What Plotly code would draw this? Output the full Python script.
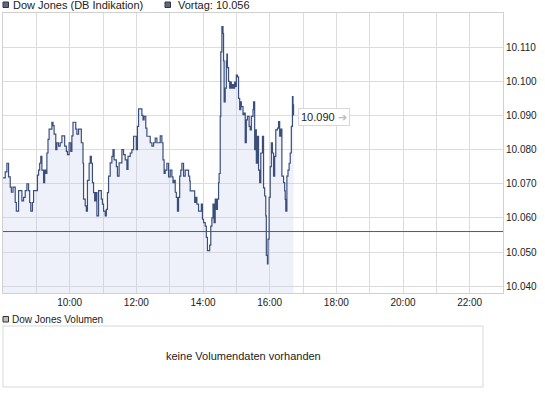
import plotly.graph_objects as go

# ---------------- data ----------------
times = [
    "08:00","08:04","08:07","08:10","08:13","08:15","08:18","08:22","08:24","08:26",
    "08:28","08:31","08:34","08:37","08:40","08:43","08:46","08:48","08:50","08:53",
    "08:55","09:00","09:02","09:04","09:06","09:08","09:10","09:13","09:15","09:17",
    "09:19","09:21","09:23","09:26","09:28","09:30","09:32","09:35","09:37","09:40",
    "09:43","09:46","09:49","09:51","09:54","09:56","09:59","10:02","10:04","10:06",
    "10:08","10:11","10:13","10:16","10:19","10:21","10:24","10:25","10:28","10:30",
    "10:32","10:35","10:37","10:39","10:41","10:43","10:45","10:47","10:49","10:52",
    "10:55","10:57","10:59","11:01","11:04","11:06","11:08","11:10","11:13","11:16",
    "11:18","11:20","11:24","11:26","11:29","11:32","11:34","11:37","11:40","11:43",
    "11:45","11:49","11:52","11:55","11:58","12:00","12:02","12:04","12:07","12:10",
    "12:12","12:14","12:17","12:19","12:22","12:25",
    "12:28","12:31","12:34","12:37","12:40","12:43","12:46","12:48","12:50","12:52",
    "12:55","12:58","13:01","13:04","13:06","13:08","13:10","13:12","13:14","13:16",
    "13:18","13:20","13:22","13:25","13:28","13:31","13:34","13:36","13:37","13:40",
    "13:43","13:45","13:47","13:49","13:52","13:55","13:57","13:59","14:01","14:04",
    "14:06","14:08","14:10","14:12","14:14","14:16","14:18","14:20","14:22","14:24",
    "14:26","14:28","14:29","14:31","14:32","14:34","14:36","14:37","14:38","14:40",
    "14:42","14:43","14:44","14:46","14:48","14:49","14:51","14:53","14:55","14:57",
    "14:59","15:00","15:02","15:04","15:06","15:08","15:09","15:12","15:14","15:16",
    "15:18","15:20","15:23","15:25","15:27","15:30","15:31","15:33","15:35","15:36",
    "15:38","15:40","15:42","15:44","15:47","15:49","15:51","15:53","15:54","15:56",
    "15:57","15:59","16:01","16:03","16:05","16:07","16:09","16:11","16:14","16:16",
    "16:18","16:20","16:22","16:25","16:27","16:28","16:29","16:31","16:33","16:35",
    "16:37","16:39","16:41","16:42","16:43",
]
prices = [
    10071.7,10073.5,10076,10072,10069,10067.5,10069,10064.5,10062,10062,
    10068,10068,10065,10066,10068,10070,10068,10064.5,10062,10064.5,
    10068,10068,10072.5,10074,10076,10078,10074,10070.3,10074,10073,
    10079,10083,10086,10086,10088,10087,10084.5,10080,10082,10081,
    10082,10084,10084,10081,10079.5,10078.5,10082,10079.5,10084,10088,
    10088,10086,10084.5,10086,10086,10082,10076,10065.5,10063.5,10062,
    10071,10076,10078,10076,10070.3,10067.4,10065,10067.4,10060.6,10068,
    10068,10065.5,10064,10062,10060.6,10062.5,10067.4,10072.2,10076.1,10078,
    10080,10077,10075,10072.2,10076.1,10076.1,10080,10078.5,10077,10074.2,
    10078,10079,10080,10083.9,10083.9,10080,10086.8,10091.9,10091.9,10090,
    10088.7,10089.7,10086.3,10083.9,10083.9,10082,
    10081,10082,10083.4,10082,10082,10084,10082,10077,10073,10074,
    10076,10072,10074,10072,10070.3,10071,10067.5,10066,10062,10066,
    10072.2,10074,10076,10072.2,10074,10074,10072.2,10070.8,10067.9,10067.9,
    10067.9,10064.5,10066,10064,10062,10062,10064,10059.6,10058.6,10057.6,
    10054.3,10050.4,10050.4,10052,10057.6,10060,10064,10058.6,10065.5,10062.5,
    10065.5,10070.3,10073,10089.7,10108.6,10116,10114,10106,10094,10098,
    10106,10108,10104,10100,10098,10099.8,10098,10099,10098,10099.8,
    10098.5,10101.8,10101.3,10095,10091.7,10094,10092.6,10090.2,10090.7,10082,
    10088.7,10089.7,10086.8,10085.8,10089.7,10091.7,10094,10080,10085.8,10076,
    10083.9,10074,10070.3,10079,10083.9,10068.8,10066.4,10060.6,10049,10046.5,
    10053.8,10066,10075,10082,10079,10072.2,10078,10085.8,10086.3,10088.2,
    10083.9,10086,10072.2,10070.3,10067.9,10065.4,10062,10072.2,10074,10076,
    10079,10086.8,10095.5,10093.1,10090,
]
vortag = 10056
last_price = 10090
y_ticks = [10040, 10050, 10060, 10070, 10080, 10090, 10100, 10110]
x_tick_hours = [10, 12, 14, 16, 18, 20, 22]
x_tick_labels = ["10:00", "12:00", "14:00", "16:00", "18:00", "20:00", "22:00"]
series_name = "Dow Jones (DB Indikation)"
vortag_label = "Vortag: 10.056"
volume_name = "Dow Jones Volumen"
volume_msg = "keine Volumendaten vorhanden"

# ---------------- layout constants ----------------
W, H = 545, 395
L, R, T, B = 3, 42, 13, 102
PW, PH = W - L - R, H - T - B
LINE = "#3b4f7c"
GRID = "#dcdcdc"
TXT = "#222222"
FONT = "Liberation Sans, Arial, sans-serif"


def px(xp):
    return (xp - L) / PW


def py(yp):
    return (H - B - yp) / PH


hours = [int(t[:2]) + int(t[3:]) / 60 for t in times]

fig = go.Figure()
fig.add_trace(go.Scatter(
    x=hours, y=prices, mode="lines", line=dict(color=LINE, width=1.2, shape="hv"),
    fill="tozeroy", fillcolor="rgba(190,200,235,0.25)", hoverinfo="skip",
    showlegend=False,
))

shapes = [
    dict(type="line", xref="paper", x0=0, x1=1, yref="y", y0=vortag, y1=vortag,
         line=dict(color="#4a5a84", width=1)),
    # legend squares
    dict(type="rect", xref="paper", yref="paper", x0=px(3), x1=px(8.5), y0=py(7.5), y1=py(2),
         fillcolor="#5b6a8c", line=dict(color="#333333", width=1)),
    dict(type="rect", xref="paper", yref="paper", x0=px(165), x1=px(170.5), y0=py(7.5), y1=py(2),
         fillcolor="#5b6a8c", line=dict(color="#333333", width=1)),
    dict(type="rect", xref="paper", yref="paper", x0=px(3), x1=px(8.5), y0=py(322), y1=py(316.5),
         fillcolor="#bdbdbd", line=dict(color="#333333", width=1)),
    # volume panel
    dict(type="rect", xref="paper", yref="paper", x0=px(3), x1=px(483), y0=py(387), y1=py(326),
         fillcolor="white", line=dict(color="#d8d8d8", width=1)),
]

annotations = [
    dict(xref="paper", yref="paper", x=px(10.5), y=py(5), text=series_name, showarrow=False,
         xanchor="left", yanchor="middle", font=dict(family=FONT, size=11, color=TXT)),
    dict(xref="paper", yref="paper", x=px(176), y=py(5), text=vortag_label, showarrow=False,
         xanchor="left", yanchor="middle", font=dict(family=FONT, size=11, color=TXT)),
    dict(xref="paper", yref="paper", x=px(10), y=py(319.5), text=volume_name, showarrow=False,
         xanchor="left", yanchor="middle", font=dict(family=FONT, size=10, color=TXT)),
    dict(xref="paper", yref="paper", x=px(243), y=py(356), text=volume_msg, showarrow=False,
         xanchor="center", yanchor="middle", font=dict(family=FONT, size=11, color=TXT)),
    dict(xref="x", yref="y", x=hours[-1], y=last_price, xanchor="left", yanchor="middle",
         xshift=4, yshift=-2, showarrow=False,
         text=f"{last_price:,.0f}".replace(",", ".") + " <span style='color:#bbbbbb'>➔</span>",
         bgcolor="white", bordercolor="#d8d8d8", borderwidth=1, borderpad=2,
         font=dict(family=FONT, size=11, color=TXT)),
]

fig.update_layout(
    width=W, height=H, margin=dict(l=L, r=R, t=T, b=B),
    paper_bgcolor="white", plot_bgcolor="white",
    separators=",.",
    shapes=shapes, annotations=annotations, showlegend=False,
    xaxis=dict(range=[8, 23], tickmode="array", tickvals=x_tick_hours, ticktext=x_tick_labels,
               showgrid=True, gridcolor=GRID, gridwidth=1, zeroline=False,
               showline=True, linecolor="#d0d0d0", mirror=True, ticks="",
               minor=dict(dtick=1, tick0=8, showgrid=True, gridcolor=GRID, gridwidth=1),
               tickfont=dict(family=FONT, size=10, color=TXT)),
    yaxis=dict(range=[10038, 10120], side="right", tickmode="array", tickvals=y_ticks,
               tickformat=",d", showgrid=True, gridcolor=GRID, gridwidth=1, zeroline=False,
               showline=True, linecolor="#d0d0d0", mirror=True, ticks="",
               tickfont=dict(family=FONT, size=10, color=TXT)),
)

fig.write_html("out.html")
